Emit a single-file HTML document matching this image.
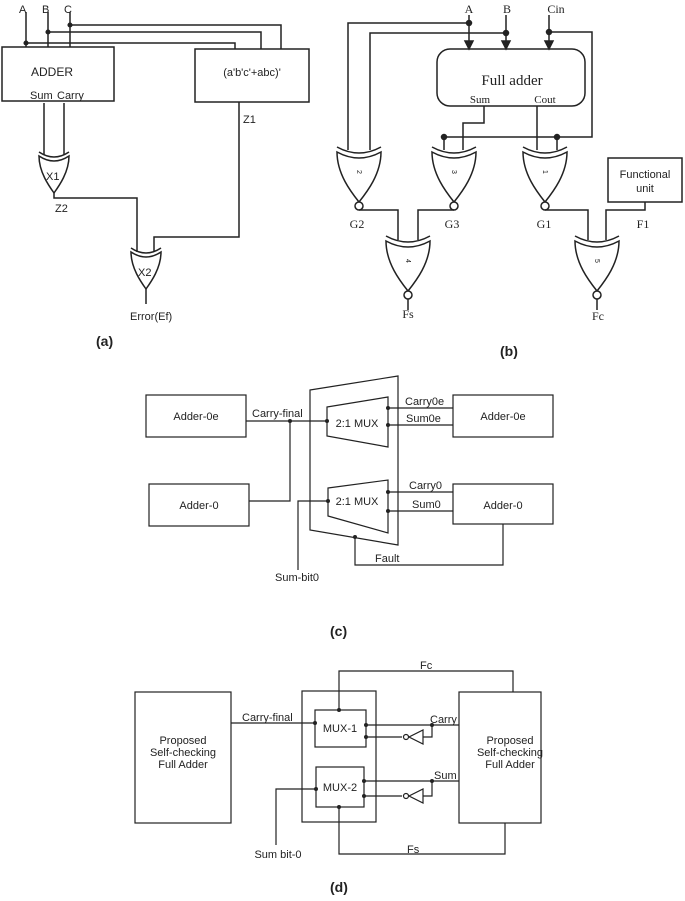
<!DOCTYPE html>
<html><head><meta charset="utf-8"><style>
html,body{margin:0;padding:0;background:#fff;}
svg{display:block;}
text{font-family:"Liberation Sans",sans-serif;fill:#222;}
.s{font-family:"Liberation Serif",serif;}
</style></head><body>
<svg width="685" height="901" viewBox="0 0 685 901" xmlns="http://www.w3.org/2000/svg" fill="none" stroke="#222" stroke-width="1.5">
<defs>
<g id="xor">
<path d="M0,0 Q15,10 30,0 C30,16 20,30 15,37 C10,30 0,16 0,0 Z" fill="#fff"/>
<path d="M0,-4 Q15,6 30,-4"/>
</g>
<g id="xnor">
<path d="M0,0 Q22,12 44,0 C44,22 30,40 22,50 C14,40 0,22 0,0 Z" fill="#fff"/>
<path d="M0,-5 Q22,7 44,-5"/>
<circle cx="22" cy="54" r="4" fill="#fff"/>
</g>
</defs>

<!-- (a) -->
<g>
<rect x="2" y="47" width="112" height="54"/>
<rect x="195" y="49" width="114" height="53"/>
<path d="M26,12V47 M48,12V47 M70,12V47 M26,43H235V49 M48,32H261V49 M70,25H281V49"/>
<circle cx="26" cy="43" r="1.8" fill="#222"/><circle cx="48" cy="32" r="1.8" fill="#222"/><circle cx="70" cy="25" r="1.8" fill="#222"/>
<path d="M44,103V155 M64,103V155"/>
<use href="#xor" x="39" y="156"/>
<path d="M54,193V198H137V252"/>
<path d="M239,102V237H154V252"/>
<use href="#xor" x="131" y="252"/>
<path d="M146,289V304"/>
</g>
<g stroke="none" font-size="11">
<text x="19" y="13">A</text><text x="42" y="13">B</text><text x="64" y="13">C</text>
<text x="52" y="76" text-anchor="middle" font-size="12">ADDER</text>
<text x="30" y="99" font-size="11">Sum</text><text x="57" y="99" font-size="11">Carry</text>
<text x="252" y="76" text-anchor="middle" font-size="11">(a'b'c'+abc)'</text>
<text x="243" y="123">Z1</text><text x="55" y="212">Z2</text>
<text x="46" y="180">X1</text><text x="138" y="276">X2</text>
<text x="130" y="320">Error(Ef)</text>
<text x="96" y="346" font-weight="bold" font-size="14">(a)</text>
</g>

<!-- (b) -->
<g>
<rect x="437" y="49" width="148" height="57" rx="13"/>
<path d="M469,15V44 M506,15V44 M549,15V44"/>
<path d="M465,41L469,49L473,41Z M502,41L506,49L510,41Z M545,41L549,49L553,41Z" fill="#222"/>
<path d="M469,23H348V150 M506,33H370V150 M549,32H592V137H444V150 M557,137V150"/>
<path d="M484,106V123H463V150 M537,106V150"/>
<circle cx="469" cy="23" r="2.5" fill="#222"/><circle cx="506" cy="33" r="2.5" fill="#222"/><circle cx="549" cy="32" r="2.5" fill="#222"/>
<circle cx="444" cy="137" r="2.5" fill="#222"/><circle cx="557" cy="137" r="2.5" fill="#222"/>
<use href="#xnor" x="337" y="152"/>
<use href="#xnor" x="432" y="152"/>
<use href="#xnor" x="523" y="152"/>
<rect x="608" y="158" width="74" height="44"/>
<path d="M359,210H398V240 M454,210H418V240 M545,210H588V240 M645,202V210H606V240"/>
<use href="#xnor" x="386" y="241"/>
<use href="#xnor" x="575" y="241"/>
<path d="M408,299V310 M597,299V310"/>
</g>
<g stroke="none" class="s">
<text x="469" y="13" text-anchor="middle" font-size="12" class="s">A</text>
<text x="507" y="13" text-anchor="middle" font-size="12" class="s">B</text>
<text x="556" y="13" text-anchor="middle" font-size="12" class="s">Cin</text>
<text x="512" y="85" text-anchor="middle" font-size="15" class="s">Full adder</text>
<text x="480" y="103" text-anchor="middle" font-size="11" class="s">Sum</text>
<text x="545" y="103" text-anchor="middle" font-size="11" class="s">Cout</text>
<text x="645" y="178" text-anchor="middle" font-size="11">Functional</text>
<text x="645" y="192" text-anchor="middle" font-size="11">unit</text>
<text x="357" y="228" text-anchor="middle" font-size="12" class="s">G2</text>
<text x="452" y="228" text-anchor="middle" font-size="12" class="s">G3</text>
<text x="544" y="228" text-anchor="middle" font-size="12" class="s">G1</text>
<text x="643" y="228" text-anchor="middle" font-size="12" class="s">F1</text>
<text x="408" y="318" text-anchor="middle" font-size="12" class="s">Fs</text>
<text x="598" y="320" text-anchor="middle" font-size="12" class="s">Fc</text>
<text x="359" y="174" text-anchor="middle" font-size="7" transform="rotate(90 359 172)">2</text>
<text x="454" y="174" text-anchor="middle" font-size="7" transform="rotate(90 454 172)">3</text>
<text x="545" y="174" text-anchor="middle" font-size="7" transform="rotate(90 545 172)">1</text>
<text x="408" y="263" text-anchor="middle" font-size="7" transform="rotate(90 408 261)">4</text>
<text x="597" y="263" text-anchor="middle" font-size="7" transform="rotate(90 597 261)">5</text>
<text x="500" y="356" font-weight="bold" font-size="14" font-family="Liberation Sans">(b)</text>
</g>

<!-- (c) -->
<g stroke-width="1.2">
<rect x="146" y="395" width="100" height="42"/>
<rect x="149" y="484" width="100" height="42"/>
<rect x="453" y="395" width="100" height="42"/>
<rect x="453" y="484" width="100" height="40"/>
<path d="M310,390L398,376V545L310,530Z"/>
<path d="M327,407L388,397V447L327,436Z"/>
<path d="M328,488L388,480V533L328,516Z"/>
<path d="M246,421H328 M290,421V501H249 M328,501H298V570 M388,408H453 M388,425H453 M388,492H453 M388,511H453 M355,537V565H503V524"/>
<g fill="#222" stroke="none">
<circle cx="290" cy="421" r="2"/><circle cx="327" cy="421" r="2"/><circle cx="328" cy="501" r="2"/>
<circle cx="388" cy="408" r="2"/><circle cx="388" cy="425" r="2"/><circle cx="388" cy="492" r="2"/><circle cx="388" cy="511" r="2"/><circle cx="355" cy="537" r="2"/>
</g>
</g>
<g stroke="none" font-size="11">
<text x="196" y="420" text-anchor="middle">Adder-0e</text>
<text x="199" y="509" text-anchor="middle">Adder-0</text>
<text x="503" y="420" text-anchor="middle">Adder-0e</text>
<text x="503" y="509" text-anchor="middle">Adder-0</text>
<text x="252" y="417">Carry-final</text>
<text x="357" y="427" text-anchor="middle">2:1 MUX</text>
<text x="357" y="505" text-anchor="middle">2:1 MUX</text>
<text x="405" y="405">Carry0e</text><text x="406" y="422">Sum0e</text>
<text x="409" y="489">Carry0</text><text x="412" y="508">Sum0</text>
<text x="375" y="562">Fault</text>
<text x="297" y="581" text-anchor="middle">Sum-bit0</text>
<text x="330" y="636" font-weight="bold" font-size="14">(c)</text>
</g>

<!-- (d) -->
<g stroke-width="1.2">
<rect x="135" y="692" width="96" height="131"/>
<rect x="302" y="691" width="74" height="131"/>
<rect x="315" y="710" width="51" height="37"/>
<rect x="316" y="767" width="48" height="40"/>
<rect x="459" y="692" width="82" height="131"/>
<path d="M339,710V671H513V692 M231,723H315 M366,725H459 M432,725V737H423 M402,737H366 M364,781H459 M432,781V796H423 M402,796H364 M316,789H276V845 M339,807V854H505V823"/>
<path d="M423,730V744L409,737Z M423,789V803L409,796Z" fill="#fff"/>
<circle cx="406" cy="737" r="2.5" fill="#fff"/><circle cx="406" cy="796" r="2.5" fill="#fff"/>
<g fill="#222" stroke="none">
<circle cx="339" cy="710" r="2"/><circle cx="315" cy="723" r="2"/><circle cx="366" cy="725" r="2"/><circle cx="366" cy="737" r="2"/><circle cx="432" cy="725" r="2"/>
<circle cx="364" cy="781" r="2"/><circle cx="364" cy="796" r="2"/><circle cx="432" cy="781" r="2"/><circle cx="316" cy="789" r="2"/><circle cx="339" cy="807" r="2"/>
</g>
</g>
<g stroke="none" font-size="11">
<text x="183" y="744" text-anchor="middle">Proposed</text>
<text x="183" y="756" text-anchor="middle">Self-checking</text>
<text x="183" y="768" text-anchor="middle">Full Adder</text>
<text x="510" y="744" text-anchor="middle">Proposed</text>
<text x="510" y="756" text-anchor="middle">Self-checking</text>
<text x="510" y="768" text-anchor="middle">Full Adder</text>
<text x="340" y="732" text-anchor="middle">MUX-1</text>
<text x="340" y="791" text-anchor="middle">MUX-2</text>
<text x="242" y="721">Carry-final</text>
<text x="430" y="723">Carry</text><text x="434" y="779">Sum</text>
<text x="420" y="669">Fc</text><text x="407" y="853">Fs</text>
<text x="278" y="858" text-anchor="middle">Sum bit-0</text>
<text x="330" y="892" font-weight="bold" font-size="14">(d)</text>
</g>
</svg>
</body></html>
